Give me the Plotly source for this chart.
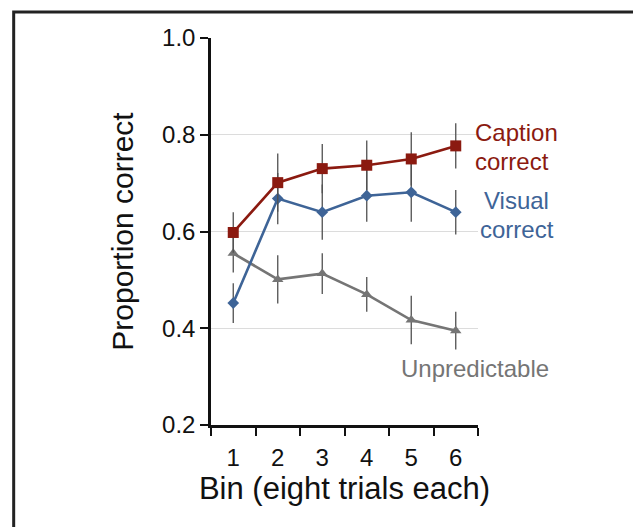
import plotly.graph_objects as go

bins = ["1", "2", "3", "4", "5", "6"]

caption_vals = [0.598, 0.701, 0.730, 0.737, 0.750, 0.777]
caption_err = [0.042, 0.060, 0.051, 0.051, 0.055, 0.047]

visual_vals = [0.452, 0.668, 0.640, 0.674, 0.681, 0.640]
visual_err = [0.041, 0.053, 0.057, 0.054, 0.061, 0.046]

unpred_vals = [0.555, 0.501, 0.513, 0.470, 0.417, 0.395]
unpred_err = [0.040, 0.050, 0.042, 0.036, 0.050, 0.039]

yticks = [0.2, 0.4, 0.6, 0.8, 1.0]

RED = "#8b1a10"
BLUE = "#3e6497"
GRAY = "#757575"
ERR = "#505050"
FONT = "Liberation Sans, Arial, sans-serif"

fig = go.Figure()

def add_series(vals, err, color, symbol, size):
    fig.add_trace(go.Scatter(
        x=bins, y=vals, mode="lines+markers",
        line=dict(color=color, width=2.6),
        marker=dict(color=color, symbol=symbol, size=size, line=dict(width=0)),
        error_y=dict(type="data", array=err, visible=True, color=ERR,
                     thickness=1.3, width=0),
        showlegend=False, cliponaxis=False,
    ))

add_series(unpred_vals, unpred_err, GRAY, "triangle-up", 10)
add_series(visual_vals, visual_err, BLUE, "diamond", 9)
add_series(caption_vals, caption_err, RED, "square", 11)

annotations = [
    dict(text="Caption", x=0.983, y=0.755, xanchor="left", color=RED),
    dict(text="correct", x=0.983, y=0.680, xanchor="left", color=RED),
    dict(text="Visual", x=1.146, y=0.580, xanchor="center", color=BLUE),
    dict(text="correct", x=1.146, y=0.506, xanchor="center", color=BLUE),
    dict(text="Unpredictable", x=0.990, y=0.147, xanchor="center", color=GRAY),
]
for a in annotations:
    fig.add_annotation(
        text=a["text"], x=a["x"], y=a["y"], xref="paper", yref="paper",
        xanchor=a["xanchor"], yanchor="middle", showarrow=False,
        font=dict(family=FONT, size=24, color=a["color"]),
    )

# outer frame
fig.add_shape(type="rect", xref="paper", yref="paper",
              x0=-0.739, x1=1.65, y0=-0.30, y1=1.067,
              line=dict(color="#222222", width=3), fillcolor="rgba(0,0,0,0)")

fig.update_layout(
    width=641, height=527,
    margin=dict(l=203, r=171, t=30, b=110),
    paper_bgcolor="white", plot_bgcolor="white",
    font=dict(family=FONT, color="#111111"),
    xaxis=dict(
        type="category", tickson="boundaries", range=[-0.5, 5.5],
        showline=True, linecolor="#111111", linewidth=2.5,
        ticks="outside", ticklen=8, tickwidth=2, tickcolor="#111111",
        showgrid=False, tickfont=dict(size=24), ticklabelstandoff=9,
        title=dict(text="Bin (eight trials each)", font=dict(size=31), standoff=3),
    ),
    yaxis=dict(
        range=[0.2, 1.0], tickvals=yticks, tickformat=".1f",
        showline=True, linecolor="#111111", linewidth=2.5,
        ticks="outside", ticklen=8, tickwidth=2, tickcolor="#111111",
        showgrid=True, gridcolor="#dcdcdc", gridwidth=1, zeroline=False,
        tickfont=dict(size=24),
        title=dict(text="Proportion correct", font=dict(size=30), standoff=20),
    ),
)

fig.write_html("out.html")
